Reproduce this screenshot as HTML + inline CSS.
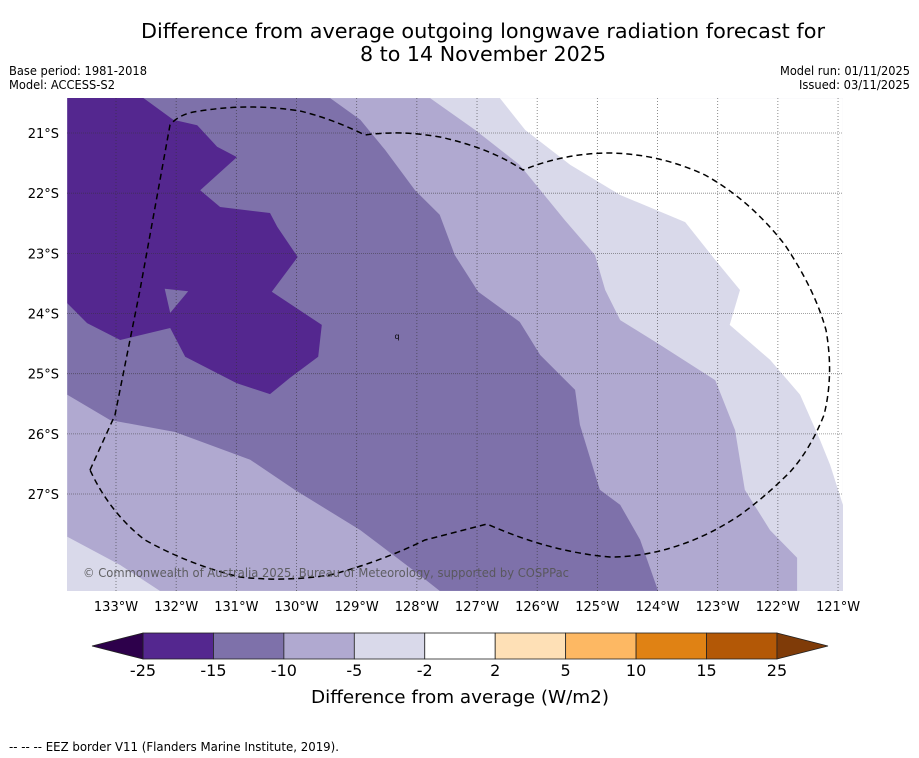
<!DOCTYPE html>
<html><head><meta charset="utf-8"><style>
body{margin:0;background:#fff;}
svg{display:block;font-family:"DejaVu Sans","Liberation Sans",sans-serif;}
</style></head><body>
<svg id="chart" width="919" height="758" viewBox="0 0 919 758">
<text x="483" y="38" font-size="20" text-anchor="middle" textLength="684" lengthAdjust="spacingAndGlyphs">Difference from average outgoing longwave radiation forecast for</text>
<text x="483" y="61" font-size="20" text-anchor="middle" textLength="246" lengthAdjust="spacingAndGlyphs">8 to 14 November 2025</text>
<text x="9" y="75" font-size="12" textLength="138" lengthAdjust="spacingAndGlyphs">Base period: 1981-2018</text>
<text x="9" y="89" font-size="12" textLength="106" lengthAdjust="spacingAndGlyphs">Model: ACCESS-S2</text>
<text x="910" y="75" font-size="12" text-anchor="end" textLength="130" lengthAdjust="spacingAndGlyphs">Model run: 01/11/2025</text>
<text x="910" y="89" font-size="12" text-anchor="end" textLength="111" lengthAdjust="spacingAndGlyphs">Issued: 03/11/2025</text>
<defs><clipPath id="mapclip"><rect x="67" y="98" width="776" height="493"/></clipPath></defs>
<g id="map" clip-path="url(#mapclip)">
<rect x="67" y="98" width="776" height="493" fill="#d9d9ea"/>
</g>
<g id="grid"></g>
<path d="M90,470 L115,415 L140,290 L160,180 L170,125 Q180,113 200,111 Q250,103 300,111 Q330,118 365,135 Q400,130 440,137 Q490,148 523,170 Q565,153 610,153 Q660,154 705,175 Q750,200 785,245 Q815,290 826,330 Q834,375 824,415 Q810,450 790,472 Q765,497 740,515 Q710,535 680,545 Q645,557 610,557 Q550,552 487,524 L425,540 Q380,562 330,575 Q285,582 240,577 Q190,565 145,540 Q110,513 90,470 Z" fill="none" stroke="#000" stroke-width="1.5" stroke-dasharray="6,4"/>
<text x="397" y="339" font-size="8" text-anchor="middle">q</text>
<text x="83" y="577" font-size="12" fill="#555" opacity="0.9" textLength="486" lengthAdjust="spacingAndGlyphs">© Commonwealth of Australia 2025, Bureau of Meteorology, supported by COSPPac</text>
<g id="axes"></g>
<g id="cbar"></g>
<text x="460" y="703" font-size="18" text-anchor="middle" textLength="298" lengthAdjust="spacingAndGlyphs">Difference from average (W/m2)</text>
<text x="9" y="751" font-size="12" textLength="330" lengthAdjust="spacingAndGlyphs">--  --  -- EEZ border V11 (Flanders Marine Institute, 2019).</text>
</svg>
<script>
const lonTicks=[-133,-132,-131,-130,-129,-128,-127,-126,-125,-124,-123,-122,-121];
const latTicks=[-21,-22,-23,-24,-25,-26,-27];
const levels=["-25","-15","-10","-5","-2","2","5","10","15","25"];
const levelColors=["#54278f","#7e71aa","#b0a9d0","#d9d9ea","#ffffff","#fee0b6","#fdb863","#e08214","#b35806"];
const extendColors=["#2d004b","#7f3b08"];
// contour polygons as [lon,lat]
const bandMinus5=[[-133.81,-20.42],[-127.78,-20.42],[-127.03,-20.95],[-126.29,-21.53],[-125.54,-22.45],[-125.04,-23.03],[-124.87,-23.61],[-124.62,-24.11],[-123.96,-24.52],[-123.04,-25.11],[-122.71,-25.94],[-122.55,-26.93],[-122.13,-27.60],[-121.68,-28.06],[-121.68,-28.61],[-132.27,-28.61],[-132.93,-28.18],[-133.81,-27.71]];
const bandMinus10=[[-133.81,-20.42],[-129.44,-20.42],[-128.94,-20.78],[-128.53,-21.28],[-128.03,-21.95],[-127.62,-22.36],[-127.37,-23.03],[-126.98,-23.64],[-126.29,-24.14],[-125.95,-24.69],[-125.37,-25.27],[-125.29,-25.85],[-124.96,-26.93],[-124.62,-27.18],[-124.29,-27.76],[-123.99,-28.61],[-127.62,-28.61],[-127.95,-28.35],[-128.94,-27.60],[-130.03,-26.93],[-130.77,-26.43],[-132.02,-25.97],[-133.10,-25.77],[-133.81,-25.35]];
const bandMinus15=[[-133.81,-20.40],[-132.57,-20.40],[-132.05,-20.78],[-131.65,-20.87],[-131.32,-21.23],[-130.99,-21.40],[-131.60,-21.95],[-131.27,-22.23],[-130.44,-22.33],[-130.32,-22.56],[-129.98,-23.06],[-130.41,-23.64],[-129.58,-24.19],[-129.64,-24.72],[-130.11,-25.07],[-130.44,-25.34],[-130.99,-25.16],[-131.85,-24.72],[-132.10,-24.24],[-132.93,-24.44],[-133.48,-24.16],[-133.81,-23.83]];
const holeMinus15=[[-132.19,-23.59],[-131.80,-23.63],[-132.10,-23.99]];
const bandWhite=[[-126.62,-20.42],[-120.92,-20.42],[-120.92,-27.18],[-121.13,-26.52],[-121.30,-26.10],[-121.63,-25.35],[-122.13,-24.77],[-122.80,-24.19],[-122.63,-23.61],[-123.04,-23.11],[-123.54,-22.48],[-124.62,-22.03],[-125.45,-21.53],[-126.20,-20.95]];

const NS="http://www.w3.org/2000/svg";
const PX=60.17;
function xScale(lon){return 116+(lon+133)*PX;}
function yScale(lat){return 133+(-21-lat)*PX;}
function mk(tag,attrs,parent){const e=document.createElementNS(NS,tag);for(const k in attrs)e.setAttribute(k,attrs[k]);parent.appendChild(e);return e;}
const map=document.getElementById('map');
function poly(pts,fill,name){
  const p=mk('polygon',{points:pts.map(q=>xScale(q[0]).toFixed(1)+','+yScale(q[1]).toFixed(1)).join(' '),fill:fill},map);
  
  
}
poly(bandWhite,levelColors[4],'contour-minus2-to-2');
poly(bandMinus5,levelColors[2],'contour-minus10-to-minus5');
poly(bandMinus10,levelColors[1],'contour-minus15-to-minus10');
poly(bandMinus15,levelColors[0],'contour-minus25-to-minus15');
poly(holeMinus15,levelColors[1],'contour-hole');

const grid=document.getElementById('grid');
lonTicks.forEach(l=>{
  const x=xScale(l);
  const g=mk('line',{x1:x,x2:x,y1:98,y2:591,stroke:'#333',"stroke-width":0.8,"stroke-dasharray":"1,2",opacity:0.7},grid);
  
  
});
latTicks.forEach(l=>{
  const y=yScale(l);
  const g=mk('line',{x1:67,x2:843,y1:y,y2:y,stroke:'#333',"stroke-width":0.8,"stroke-dasharray":"1,1",opacity:0.6},grid);
  
  
});
const axes=document.getElementById('axes');
lonTicks.forEach(l=>{
  const t=mk('text',{x:xScale(l),y:611,"font-size":13,"text-anchor":"middle"},axes);
  t.textContent=Math.abs(l)+'°W';
  
  
});
latTicks.forEach(l=>{
  const t=mk('text',{x:59,y:yScale(l)+5,"font-size":13,"text-anchor":"end"},axes);
  t.textContent=Math.abs(l)+'°S';
  
  
});
const cb=document.getElementById('cbar');
const cx0=143,cw=70.44,cy=633,ch=26;
levelColors.forEach((c,i)=>{
  const r=mk('rect',{x:cx0+i*cw,y:cy,width:cw,height:ch,fill:c,stroke:'#222',"stroke-width":0.8},cb);
  
  
});
const cEnd=cx0+levelColors.length*cw;
const e1=mk('polygon',{points:`${cx0},${cy} ${cx0},${cy+ch} 92,${cy+ch/2}`,fill:extendColors[0],stroke:'#222',"stroke-width":0.8},cb);


const e2=mk('polygon',{points:`${cEnd},${cy} ${cEnd},${cy+ch} 828,${cy+ch/2}`,fill:extendColors[1],stroke:'#222',"stroke-width":0.8},cb);


levels.forEach((v,i)=>{
  const t=mk('text',{x:cx0+i*cw,y:676,"font-size":16,"text-anchor":"middle"},cb);
  t.textContent=v;
  
  
});
</script>
</body></html>
